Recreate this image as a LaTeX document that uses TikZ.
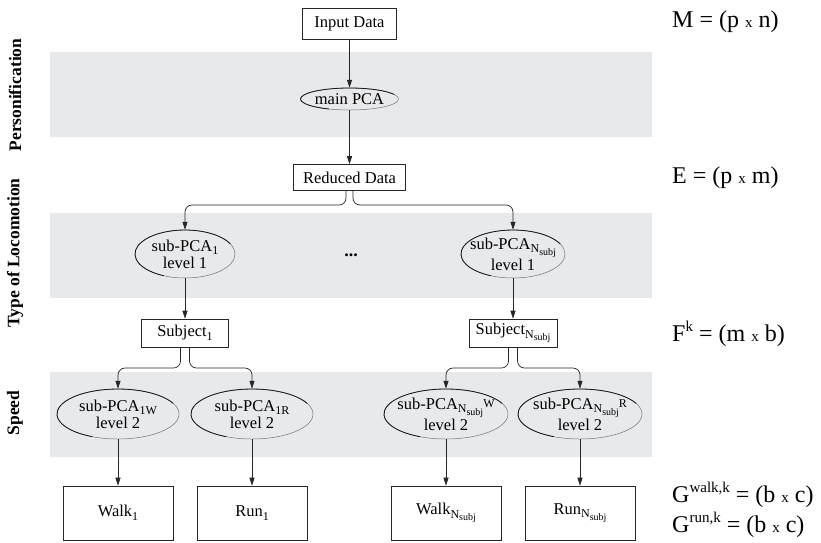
\documentclass[tikz,border=0pt]{standalone}
\usepackage{fontspec}
\setmainfont{Liberation Serif}
\usetikzlibrary{arrows.meta,shapes.geometric,calc}
\definecolor{bandgray}{RGB}{232,233,235}
\newcommand{\smx}{{\fontsize{15}{15}\selectfont x}}
\newcommand{\sbs}[1]{\raisebox{-0.22em}{\fontsize{12}{12}\selectfont #1}}
\newcommand{\ssbs}[1]{\raisebox{-0.22em}{\fontsize{10}{10}\selectfont #1}}
\newcommand{\upl}[1]{\raisebox{0.12em}{\fontsize{12}{12}\selectfont #1}}
\newcommand{\supx}[1]{\raisebox{0.42em}{\fontsize{15}{15}\selectfont #1}}
\newcommand{\embossell}[3]{\draw[black!90, line width=0.8pt] ([shift={(25:#2pt and #3pt)}]#1.center) arc[start angle=25,end angle=245,x radius=#2pt,y radius=#3pt];}
\begin{document}
\begin{tikzpicture}[x=1pt,y=-1pt,
  box/.style={draw=black!85, line width=0.6pt, rectangle, inner sep=0pt, align=center, font=\fontsize{16.5}{18}\selectfont},
  ell/.style={draw=black!55, line width=0.5pt, ellipse, inner sep=0pt},
  etxt/.style={inner sep=0pt, align=center, font=\fontsize{16.5}{17}\selectfont},
  arr/.style={-{Triangle[length=8pt,width=5pt]}, line width=0.7pt, draw=black!85},
  lab/.style={font=\fontsize{17.5}{17.5}\selectfont\bfseries, rotate=90, inner sep=0pt},
  frm/.style={font=\fontsize{24}{26}\selectfont, anchor=west, inner sep=0pt},
]
\useasboundingbox (0,0) rectangle (821,542);
\fill[white] (0,0) rectangle (821,542);
% bands
\fill[bandgray] (50,52) rectangle (652,137);
\fill[bandgray] (50,213) rectangle (652,298);
\fill[bandgray] (50,372) rectangle (652,457);
% side labels
\node[lab] (l1) at (15,95) {Personification};
\node[lab] (l2) at (15,253) {Type of Locomotion};
\node[lab] (l3) at (15,413) {Speed};
% boxes
\node[box, minimum width=94, minimum height=31] (in) at (349.5,23.5) {Input Data};
\node[box, minimum width=112, minimum height=26] (rd) at (349.5,177.5) {Reduced Data};
\node[box, minimum width=87, minimum height=28] (sj1) at (185,333) {Subject\sbs{1}};
\node[box, minimum width=88, minimum height=28] (sjn) at (513,333) {Subject\sbs{N\ssbs{subj}}};
\node[box, minimum width=110, minimum height=54] (w1) at (118,513) {Walk\sbs{1}};
\node[box, minimum width=110, minimum height=54] (r1) at (252,513) {Run\sbs{1}};
\node[box, minimum width=110, minimum height=54] (wn) at (446,513) {Walk\sbs{N\ssbs{subj}}};
\node[box, minimum width=110, minimum height=54] (rn) at (580,513) {Run\sbs{N\ssbs{subj}}};
% ellipses
\node[ell, minimum width=98, minimum height=22] (mp) at (349.5,99) {};
\node[ell, minimum width=100, minimum height=48] (s1) at (185,254) {};
\node[ell, minimum width=104, minimum height=48] (sn) at (513,254) {};
\node[ell, minimum width=122, minimum height=50] (e1w) at (118,414) {};
\node[ell, minimum width=122, minimum height=50] (e1r) at (252,414) {};
\node[ell, minimum width=124, minimum height=50] (enw) at (446,414) {};
\node[ell, minimum width=124, minimum height=50] (enr) at (580,414) {};
\embossell{mp}{49}{11}
\embossell{s1}{50}{24}
\embossell{sn}{52}{24}
\embossell{e1w}{61}{25}
\embossell{e1r}{61}{25}
\embossell{enw}{62}{25}
\embossell{enr}{62}{25}
% ellipse texts
\node[etxt] (mpt) at (mp) {main PCA};
\node[etxt] (s1t) at (s1) {sub-PCA\sbs{1}\\level 1};
\node[etxt] (snt) at (sn) {sub-PCA\sbs{N\ssbs{subj}}\\level 1};
\node[etxt] (e1wt) at (e1w) {sub-PCA\sbs{1W}\\level 2};
\node[etxt] (e1rt) at (e1r) {sub-PCA\sbs{1R}\\level 2};
\node[etxt] (enwt) at (enw) {sub-PCA\sbs{N\ssbs{subj}}\upl{W}\\level 2};
\node[etxt] (enrt) at (enr) {sub-PCA\sbs{N\ssbs{subj}}\upl{R}\\level 2};
\node[font=\fontsize{18}{18}\selectfont\bfseries] (dots) at (351,255) {...};
% formulas
\node[frm] (fM) at (672,22) {M = (p \smx{} n)};
\node[frm] (fE) at (672,178) {E = (p \smx{} m)};
\node[frm] (fF) at (672,334) {F\supx{k} = (m \smx{} b)};
\node[frm] (fGw) at (672,495) {G\supx{walk,k} = (b \smx{} c)};
\node[frm] (fGr) at (672,525) {G\supx{run,k} = (b \smx{} c)};
% connectors
\draw[arr] (in) -- (mp);
\draw[arr] (mp) -- (rd);
\draw[arr, rounded corners=7pt] ([xshift=-3.5pt]rd.south) |- (s1.north |- 0,205) -- (s1.north);
\draw[arr, rounded corners=7pt] ([xshift=3.5pt]rd.south) |- (sn.north |- 0,205) -- (sn.north);
\draw[arr] (s1) -- (sj1);
\draw[arr] (sn) -- (sjn);
\draw[arr, rounded corners=7pt] ([xshift=-4.5pt]sj1.south) |- (e1w.north |- 0,368) -- (e1w.north);
\draw[arr, rounded corners=7pt] ([xshift=4.5pt]sj1.south) |- (e1r.north |- 0,368) -- (e1r.north);
\draw[arr, rounded corners=7pt] ([xshift=-4.5pt]sjn.south) |- (enw.north |- 0,368) -- (enw.north);
\draw[arr, rounded corners=7pt] ([xshift=4.5pt]sjn.south) |- (enr.north |- 0,368) -- (enr.north);
\draw[arr] (e1w) -- (w1);
\draw[arr] (e1r) -- (r1);
\draw[arr] (enw) -- (wn);
\draw[arr] (enr) -- (rn);
\end{tikzpicture}
\end{document}
